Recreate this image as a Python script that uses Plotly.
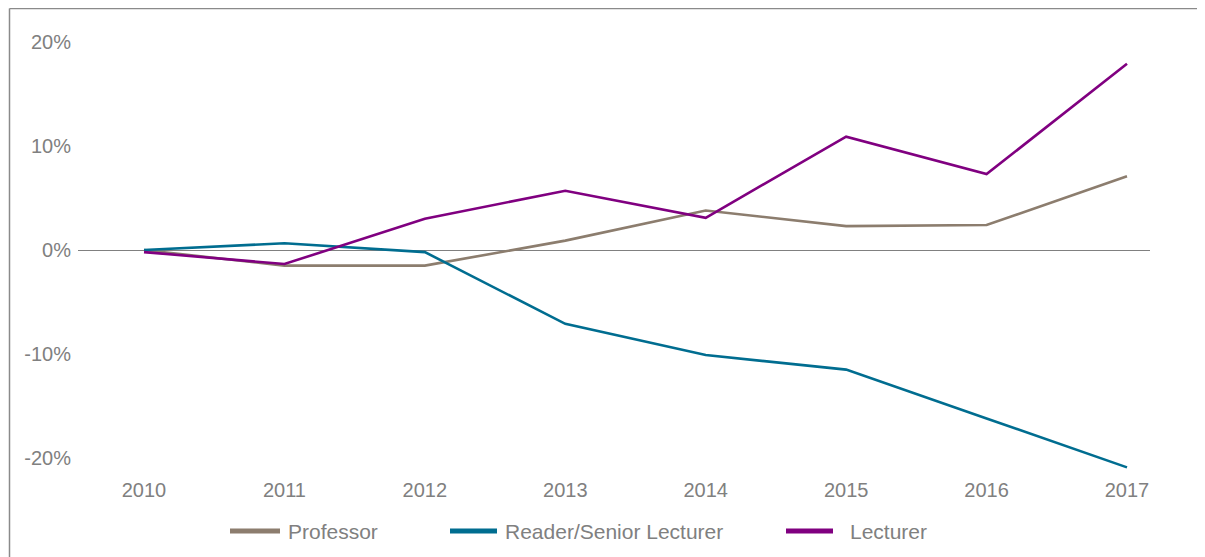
import plotly.graph_objects as go

years = [2010, 2011, 2012, 2013, 2014, 2015, 2016, 2017]
professor = [0.0, -1.5, -1.5, 0.9, 3.8, 2.3, 2.4, 7.1]
reader = [0.0, 0.65, -0.2, -7.1, -10.1, -11.5, -16.2, -20.9]
lecturer = [-0.2, -1.35, 3.0, 5.7, 3.1, 10.9, 7.3, 17.9]
series_names = ["Professor", "Reader/Senior Lecturer", "Lecturer"]
series_colors = ["#8C7D6E", "#006D90", "#800080"]
y_ticks = [-20, -10, 0, 10, 20]
y_tick_labels = ["-20%", "-10%", "0%", "10%", "20%"]

# page body has an 8px margin; work in screenshot pixels and shift by OFF
OFF = 8
W, H = 1205 - OFF, 557 - OFF
L, R, T, B = 78 - OFF, 1150 - OFF, 21 - OFF, 474 - OFF  # plot area in figure pixels
pw, ph = R - L, B - T

zero_px, px_per_unit = 250 - OFF, 10.4
y_max = (zero_px - T) / px_per_unit
y_min = (zero_px - B) / px_per_unit
x0_px, x_step = 144 - OFF, (1127 - 144) / 7
x_min = 2010 - (x0_px - L) / x_step
x_max = 2010 + (R - x0_px) / x_step

def px(x):  # screenshot pixel -> paper
    return (x - OFF - L) / pw

def py(y):
    return (B - (y - OFF)) / ph

fig = go.Figure()
for name, vals, col in zip(series_names, [professor, reader, lecturer], series_colors):
    fig.add_trace(go.Scatter(x=years, y=vals, mode="lines", name=name,
                             line=dict(color=col, width=2.6), showlegend=False))

font = dict(family="Liberation Sans, Arial, sans-serif", size=20, color="#808080")

shapes = [
    dict(type="line", xref="paper", yref="paper", x0=px(9.5), x1=px(9.5), y0=py(8.5), y1=py(570),
         line=dict(color="#8a8a8a", width=1.5)),
    dict(type="line", xref="paper", yref="paper", x0=px(9.5), x1=px(1220), y0=py(8.5), y1=py(8.5),
         line=dict(color="#8a8a8a", width=1.5)),
]
annotations = []
legend_items = [(230, 280, 286), (450, 497, 503), (786, 833, 848)]
ly = 531
for (s0, s1, tx), name, col in zip(legend_items, series_names, series_colors):
    shapes.append(dict(type="line", xref="paper", yref="paper", x0=px(s0), x1=px(s1),
                       y0=py(ly), y1=py(ly), line=dict(color=col, width=5)))
    annotations.append(dict(xref="paper", yref="paper", x=px(tx), y=py(ly), text=name,
                            showarrow=False, xanchor="left", yanchor="middle",
                            font=dict(family=font["family"], size=21, color="#808080")))

fig.update_layout(
    width=W, height=H,
    margin=dict(l=L, r=W - R, t=T, b=H - B, pad=0),
    paper_bgcolor="white", plot_bgcolor="white",
    font=font,
    shapes=shapes, annotations=annotations,
    xaxis=dict(range=[x_min, x_max], tickmode="array", tickvals=years,
               ticktext=[str(y) for y in years], showgrid=False, zeroline=False,
               showline=False, ticks="", tickfont=dict(size=20, color="#808080"),
               ticklabelstandoff=2),
    yaxis=dict(range=[y_min, y_max], tickmode="array", tickvals=y_ticks,
               ticktext=y_tick_labels, showgrid=False, zeroline=True,
               zerolinecolor="#808080", zerolinewidth=1, showline=False, ticks="",
               tickfont=dict(size=20, color="#808080"), ticklabelstandoff=6),
)

fig.write_html("out.html")
